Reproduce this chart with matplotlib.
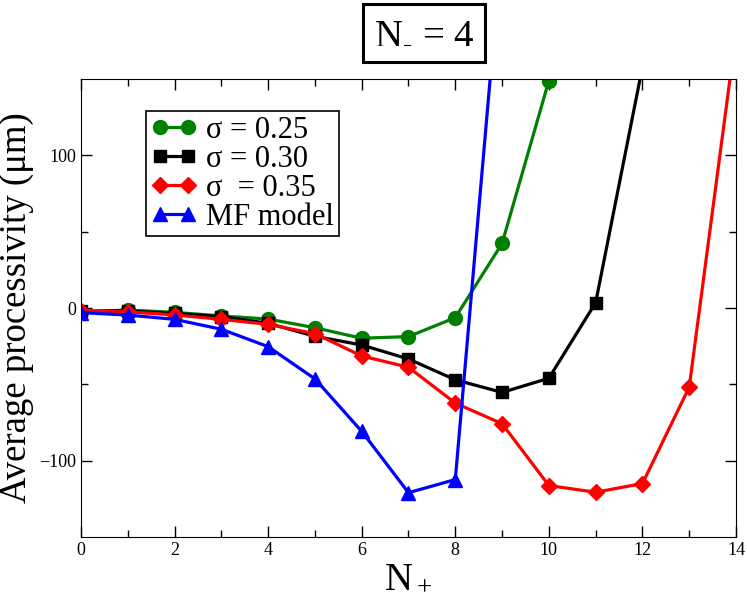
import matplotlib
matplotlib.use('Agg')
import matplotlib.pyplot as plt

plt.rcParams['font.family'] = ['Liberation Serif', 'DejaVu Serif']
plt.rcParams['mathtext.fontset'] = 'custom'
plt.rcParams['mathtext.rm'] = 'Liberation Serif'
plt.rcParams['mathtext.it'] = 'Liberation Serif'

# N+ values for each curve
x_025 = [0, 1, 2, 3, 4, 5, 6, 7, 8, 9, 10]
y_025 = [-2.4, -1.3, -2.8, -5.2, -7.2, -12.9, -19.8, -18.7, -6.3, 42.3, 149]
x_030 = [0, 1, 2, 3, 4, 5, 6, 7, 8, 9, 10, 11, 12]
y_030 = [-2, -2, -3.5, -5.6, -10, -18.5, -24.2, -33.4, -47, -55.3, -46, 3.5, 158]
x_035 = [0, 1, 2, 3, 4, 5, 6, 7, 8, 9, 10, 11, 12, 13, 14]
y_035 = [-2, -2.5, -4.5, -7.4, -10.7, -16.8, -31.4, -38.8, -62.3, -75.8, -116.3, -120.7, -115, -51.8, 180]
x_mf = [0, 1, 2, 3, 4, 5, 6, 7, 8, 9]
y_mf = [-3, -4.6, -7.4, -13.9, -25.3, -46.4, -80.8, -121, -112.4, 240]

fig = plt.figure(figsize=(7.47, 6.04), dpi=100)
ax = fig.add_axes([0.1084, 0.111, 0.8769, 0.758])

ax.plot(x_025, y_025, color='green', lw=2.3, marker='o', ms=10, label='σ = 0.25')
ax.plot(x_030, y_030, color='black', lw=2.3, marker='s', ms=9, label='σ = 0.30')
ax.plot(x_035, y_035, color='red', lw=2.3, marker='D', ms=8, label='σ  = 0.35')
ax.plot(x_mf, y_mf, color='blue', lw=2.3, marker='^', ms=10, label='MF model')

ax.set_xlim(0, 14)
ax.set_ylim(-150, 150)
ax.set_xticks(range(0, 15, 2))
ax.set_xticks(range(1, 14, 2), minor=True)
ax.set_yticks([-100, 0, 100])
ax.set_yticks([-50, 50], minor=True)
ax.tick_params(which='both', direction='in', top=True, right=True, labelsize=13, width=1)
ax.tick_params(which='major', length=8)
ax.tick_params(which='minor', length=5)

ax.set_xlabel('N$_+$', fontsize=28, labelpad=0)
ax.set_ylabel('Average processivity (μm)', fontsize=26.5, labelpad=4)

leg = ax.legend(loc='upper left', bbox_to_anchor=(0.1, 0.93), fontsize=22, numpoints=2,
                handlelength=1.5, handletextpad=0.3, labelspacing=0.0, borderpad=0.15,
                fancybox=False, framealpha=1, edgecolor='black', borderaxespad=0)
leg.get_frame().set_linewidth(1.2)

fig.text(424 / 747, 1 - 33 / 604, 'N$_{\u2010}$ = 4', fontsize=28, ha='center', va='center',
         bbox=dict(boxstyle='square,pad=0.28', facecolor='white', edgecolor='black', linewidth=2.2))

fig.savefig('out.png', dpi=100)
